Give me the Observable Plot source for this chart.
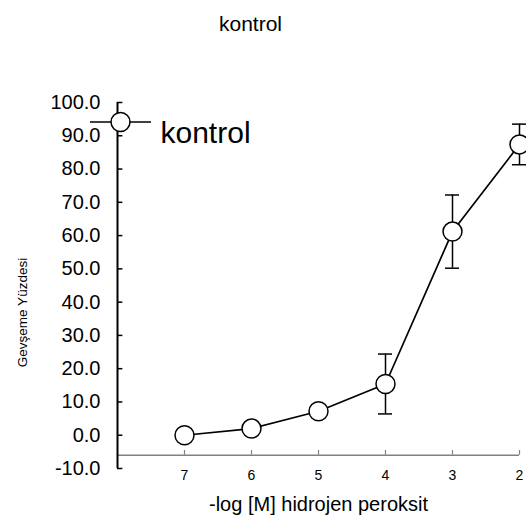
<!DOCTYPE html>
<html>
<head>
<meta charset="utf-8">
<script src="https://cdn.jsdelivr.net/npm/d3@7"></script>
<script src="https://cdn.jsdelivr.net/npm/@observablehq/plot@0.6"></script>
<style>
  html, body { margin: 0; padding: 0; background: #fff; }
</style>
</head>
<body>
<div id="chart"></div>
<script>
// ---- data ----
const titleText = "kontrol";
const seriesName = "kontrol";
const xLabel = "-log [M] hidrojen peroksit";
const yLabel = "Gevşeme Yüzdesi";
const xValues = [7, 6, 5, 4, 3, 2];
const meanValues = [0.0, 2.0, 7.2, 15.4, 61.2, 87.4];
const semValues = [0.5, 0.8, 1.0, 9.0, 11.0, 6.1];
const xTicks = [7, 6, 5, 4, 3, 2];
const yTicks = [-10, 0, 10, 20, 30, 40, 50, 60, 70, 80, 90, 100];
const xDomain = [8, 2];
const yDomain = [-10, 100];
const xAxisCross = -6.0;

const data = xValues.map((x, i) => ({
  x, y: meanValues[i], lo: meanValues[i] - semValues[i], hi: meanValues[i] + semValues[i]
}));

const font = "'Liberation Sans', Arial, Helvetica, sans-serif";

const chart = Plot.plot({
  width: 526,
  height: 523,
  marginTop: 102,
  marginBottom: 55,
  marginLeft: 117,
  marginRight: 7,
  style: { fontFamily: font, background: "#fff", color: "#000" },
  x: { domain: xDomain, axis: null },
  y: { domain: yDomain, axis: null },
  marks: [
    // x axis (grey) crossing below zero
    Plot.ruleY([xAxisCross], { x1: xDomain[0], x2: xDomain[1], stroke: "#808080", strokeWidth: 1.6 }),
    Plot.ruleX(xTicks, { x: d => d, y1: xAxisCross, y2: xAxisCross + 1.4, stroke: "#808080", strokeWidth: 1.2 }),
    Plot.text(xTicks, { x: d => d, y: xAxisCross, text: d => String(d), dy: 20, fontSize: 14, fill: "#000" }),
    // y axis
    Plot.ruleX([xDomain[0]], { y1: yDomain[0], y2: yDomain[1], stroke: "#000", strokeWidth: 2 }),
    Plot.ruleY(yTicks, { y: d => d, x1: xDomain[0], x2: xDomain[0] - 0.08, stroke: "#000", strokeWidth: 1.5 }),
    Plot.text(yTicks, { x: xDomain[0], y: d => d, text: d => d.toFixed(1), dx: -17, textAnchor: "end", fontSize: 20, fill: "#000" }),
    // error bars
    Plot.ruleX(data, { x: "x", y1: "lo", y2: "hi", stroke: "#000", strokeWidth: 1.5 }),
    Plot.ruleY(data, { y: "hi", x1: d => d.x + 0.105, x2: d => d.x - 0.105, stroke: "#000", strokeWidth: 1.5 }),
    Plot.ruleY(data, { y: "lo", x1: d => d.x + 0.105, x2: d => d.x - 0.105, stroke: "#000", strokeWidth: 1.5 }),
    // line + markers
    Plot.line(data, { x: "x", y: "y", stroke: "#000", strokeWidth: 1.7 }),
    Plot.dot(data, { x: "x", y: "y", r: 9.5, fill: "#fff", stroke: "#000", strokeWidth: 1.5 }),
    // titles
    Plot.text([titleText], { frameAnchor: "top-left", dx: 133, dy: -86, textAnchor: "middle", fontSize: 21, fill: "#000" }),
    Plot.text([xLabel], { frameAnchor: "bottom", dy: 42, fontSize: 20, fill: "#000" }),
    Plot.text([yLabel], { frameAnchor: "left", dx: -95, dy: 27, rotate: -90, textAnchor: "middle", fontSize: 13.5, fill: "#000" }),
    // legend
    Plot.text([seriesName], { frameAnchor: "top-left", dx: 43, dy: 19, textAnchor: "start", fontSize: 30, fill: "#000" })
  ]
});

// legend symbol (line with open circle), drawn on top of the y axis
const svg = d3.select(chart);
const lg = svg.append("g");
lg.append("line").attr("x1", 90).attr("x2", 151).attr("y1", 122).attr("y2", 122)
  .attr("stroke", "#000").attr("stroke-width", 1.6);
lg.append("circle").attr("cx", 120.5).attr("cy", 122).attr("r", 9.5)
  .attr("fill", "#fff").attr("stroke", "#000").attr("stroke-width", 1.5);

document.getElementById("chart").appendChild(chart);
</script>
</body>
</html>
